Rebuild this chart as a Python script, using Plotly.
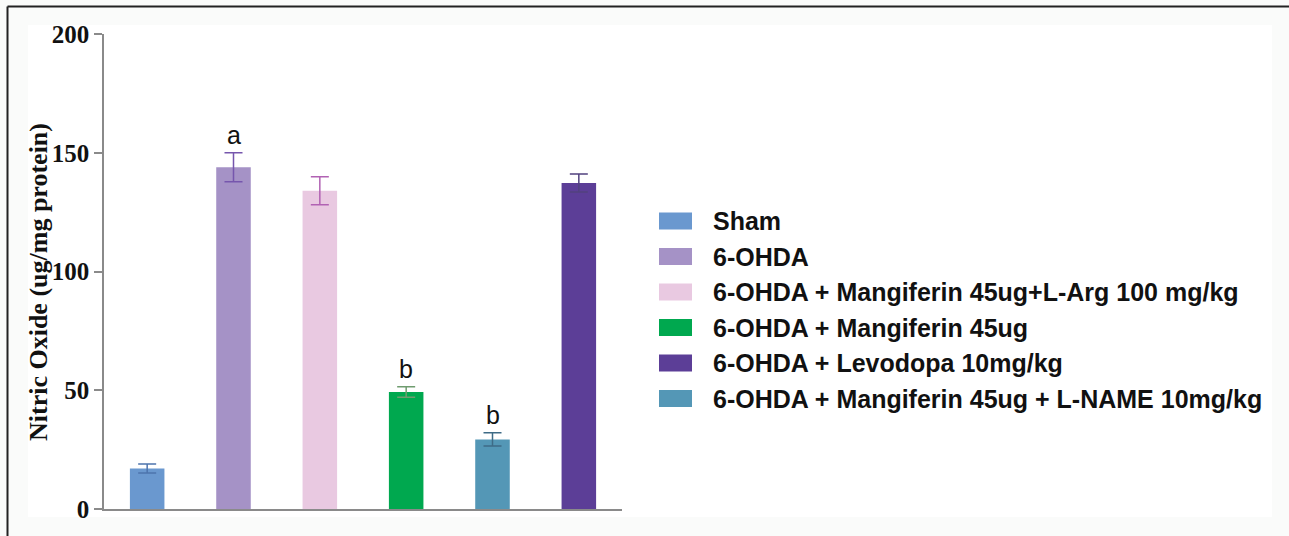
import plotly.graph_objects as go

# Groups in the order the bars appear along the x axis
groups = [
    "Sham",
    "6-OHDA",
    "6-OHDA + Mangiferin 45ug+L-Arg 100 mg/kg",
    "6-OHDA + Mangiferin 45ug",
    "6-OHDA + Mangiferin 45ug + L-NAME 10mg/kg",
    "6-OHDA + Levodopa 10mg/kg",
]
nitric_oxide = [17.1, 143.9, 134.0, 49.3, 29.3, 137.3]
sem = [1.9, 6.1, 5.9, 2.2, 2.8, 3.8]
sig_letters = ["", "a", "", "b", "b", ""]

bar_colors = ["#6a98cf", "#a592c6", "#e9c9e1", "#00a84f", "#5497b6", "#5c3e97"]
err_colors = ["#4d74ad", "#7656ad", "#b162b3", "#6f9c6f", "#3e6b86", "#52427f"]

# Legend order
legend_order = [
    "Sham",
    "6-OHDA",
    "6-OHDA + Mangiferin 45ug+L-Arg 100 mg/kg",
    "6-OHDA + Mangiferin 45ug",
    "6-OHDA + Levodopa 10mg/kg",
    "6-OHDA + Mangiferin 45ug + L-NAME 10mg/kg",
]

y_ticks = [0, 50, 100, 150, 200]

W, H = 1289, 536
ML, MR, MT, MB = 104, 667, 34, 27
PW, PH = W - ML - MR, H - MT - MB


def px_x(px):
    return (px - ML) / PW


def px_y(py):
    return (H - MB - py) / PH


fig = go.Figure()
for g, v, e, bc, ec in zip(groups, nitric_oxide, sem, bar_colors, err_colors):
    fig.add_trace(go.Bar(
        x=[g], y=[v], width=0.4,
        marker=dict(color=bc, line=dict(width=0)),
        error_y=dict(type="data", array=[e], visible=True,
                     color=ec, thickness=1.5, width=9),
        showlegend=False,
    ))

annotations = []
for g, v, e, s in zip(groups, nitric_oxide, sem, sig_letters):
    if s:
        annotations.append(dict(
            x=g, y=v + e, xref="x", yref="y", text=s, showarrow=False,
            yanchor="bottom", yshift=2,
            font=dict(family="Liberation Sans, Arial", size=25, color="#111"),
        ))

# Y axis title
annotations.append(dict(
    x=px_x(38), y=px_y(282), xref="paper", yref="paper",
    text="<b>Nitric Oxide (ug/mg protein)</b>", textangle=-90, showarrow=False,
    xanchor="center", yanchor="middle",
    font=dict(family="Liberation Serif, Times New Roman", size=26, color="#111"),
))

shapes = [
    # inner white panel on a faint grey page
    dict(type="rect", xref="paper", yref="paper", layer="below",
         x0=px_x(28), x1=px_x(1272), y0=px_y(517), y1=px_y(25),
         fillcolor="white", line=dict(width=0)),
    # frame lines
    dict(type="line", xref="paper", yref="paper",
         x0=px_x(7.5), x1=px_x(1295), y0=px_y(6.5), y1=px_y(6.5),
         line=dict(color="#222", width=2)),
    dict(type="line", xref="paper", yref="paper",
         x0=px_x(7.5), x1=px_x(7.5), y0=px_y(6.5), y1=px_y(540),
         line=dict(color="#222", width=2)),
]

# Legend drawn as swatches + labels
color_of = dict(zip(groups, bar_colors))
row0, row_step = 221, 35.5
for i, name in enumerate(legend_order):
    cy = row0 + i * row_step
    shapes.append(dict(
        type="rect", xref="paper", yref="paper",
        x0=px_x(659), x1=px_x(692), y0=px_y(cy + 8.5), y1=px_y(cy - 8.5),
        fillcolor=color_of[name], line=dict(width=0),
    ))
    annotations.append(dict(
        x=px_x(711), y=px_y(cy), xref="paper", yref="paper",
        text="<b>" + name + "</b>", showarrow=False,
        xanchor="left", yanchor="middle",
        font=dict(family="Liberation Sans, Arial", size=25, color="#111"),
    ))

fig.update_layout(
    width=W, height=H,
    margin=dict(l=ML, r=MR, t=MT, b=MB, pad=0),
    paper_bgcolor="#fafbfa",
    plot_bgcolor="white",
    barmode="overlay",
    showlegend=False,
    annotations=annotations,
    shapes=shapes,
    xaxis=dict(
        type="category", categoryorder="array", categoryarray=groups,
        range=[-0.5, len(groups) - 0.5],
        showticklabels=False, ticks="", showgrid=False, zeroline=False,
        showline=True, linecolor="#8a8a8a", linewidth=1.5,
    ),
    yaxis=dict(
        range=[0, 200], tickvals=y_ticks, ticktext=[f"<b>{t}</b>" for t in y_ticks],
        ticks="outside", ticklen=8, tickwidth=1.5, tickcolor="#8a8a8a",
        showline=True, linecolor="#8a8a8a", linewidth=1.5,
        showgrid=False, zeroline=False,
        tickfont=dict(family="Liberation Serif, Times New Roman", size=25, color="#111"),
    ),
)

fig.write_html("out.html")
